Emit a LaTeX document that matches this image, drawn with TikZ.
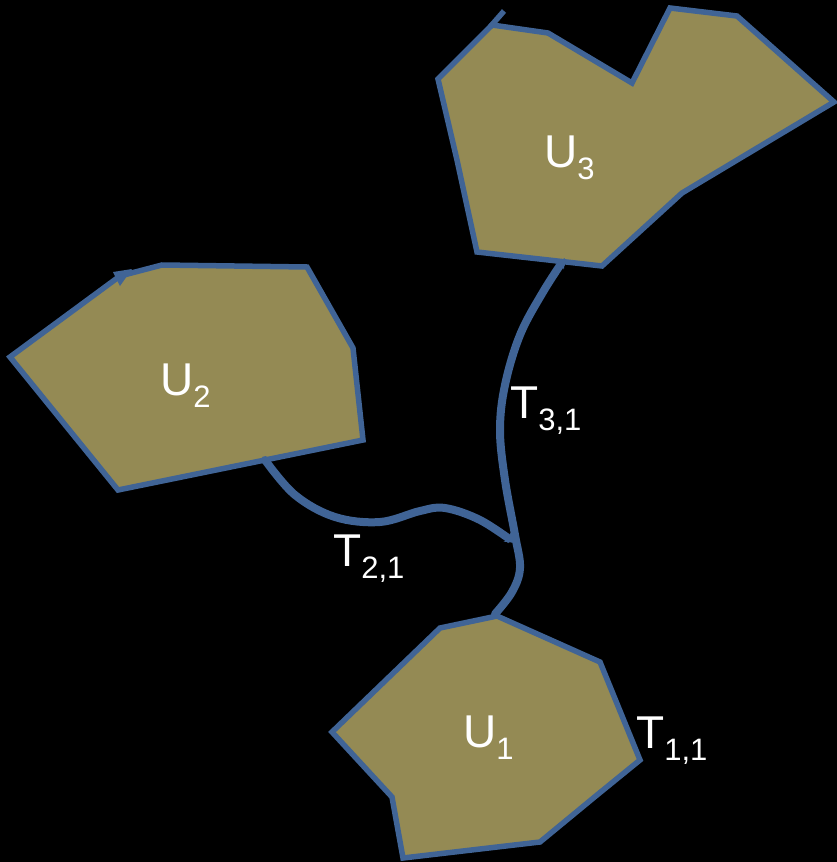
\documentclass[tikz,border=0pt]{standalone}
\usepackage{fontspec}
\setmainfont{Liberation Sans}
\usetikzlibrary{arrows.meta}
\definecolor{edgeblue}{RGB}{64,100,150}
\definecolor{olivefill}{RGB}{148,138,84}
\tikzset{
  region/.style={draw=edgeblue, fill=olivefill, line width=5.5pt, line join=miter},
  trail/.style={draw=edgeblue, line width=8pt, line cap=round},
  lbl/.style={anchor=base west, text=white, inner sep=0pt, font=\fontsize{46}{46}\selectfont},
}
\newcommand{\lblsub}[1]{\raisebox{-12.5pt}{\fontsize{31}{31}\selectfont #1}}
\begin{document}
\begin{tikzpicture}[x=1pt,y=-1pt]
\useasboundingbox (0,0) rectangle (837,862);
\fill[black] (0,0) rectangle (837,862);
% U3
\draw[region] (492,25) -- (548,33) -- (632,83) -- (670,8) -- (737,16) -- (834,102) -- (682,193) -- (602,266) -- (477,252) -- (457,160) -- (438,79) -- cycle;
\draw[draw=edgeblue, line width=5.5pt] (490,27) -- (504,11);
% U2
\draw[region] (10,357) -- (120,276) -- (162,265) -- (307,267) -- (353,348) -- (363,440) -- (118,490) -- cycle;
\fill[edgeblue] (132,269) -- (113,272) -- (120,286) -- cycle;
% U1
\draw[region] (332,732) -- (440,628) -- (497,616) -- (600,662) -- (640,760) -- (597,795) -- (540,842) -- (403,858) -- (392,797) -- cycle;
% trails
\coordinate (t3s) at (495,614);
\coordinate (t3e) at (565,258);
\coordinate (t2s) at (265,460);
\coordinate (t2e) at (515,543);
\draw[trail, -{Stealth[length=10pt,width=11pt]}] plot[smooth, tension=0.6] coordinates {(t3s) (512,592) (520,568) (515,535) (505,480) (500,430) (505,385) (520,335) (543,292) (t3e)};
\draw[trail, -{Stealth[length=10pt,width=11pt]}] plot[smooth, tension=0.6] coordinates {(t2s) (295,495) (335,517) (380,522) (420,511) (445,508) (480,520) (t2e)};
% labels
\node[lbl] (lu3) at (544,167) {U\lblsub{3}};
\node[lbl] (lu2) at (160,395) {U\lblsub{2}};
\node[lbl] (lu1) at (463,747) {U\lblsub{1}};
\node[lbl] (lt2) at (333,566) {T\lblsub{2,1}};
\node[lbl] (lt3) at (510,418) {T\lblsub{3,1}};
\node[lbl] (lt1) at (636,748) {T\lblsub{1,1}};
\end{tikzpicture}
\end{document}
